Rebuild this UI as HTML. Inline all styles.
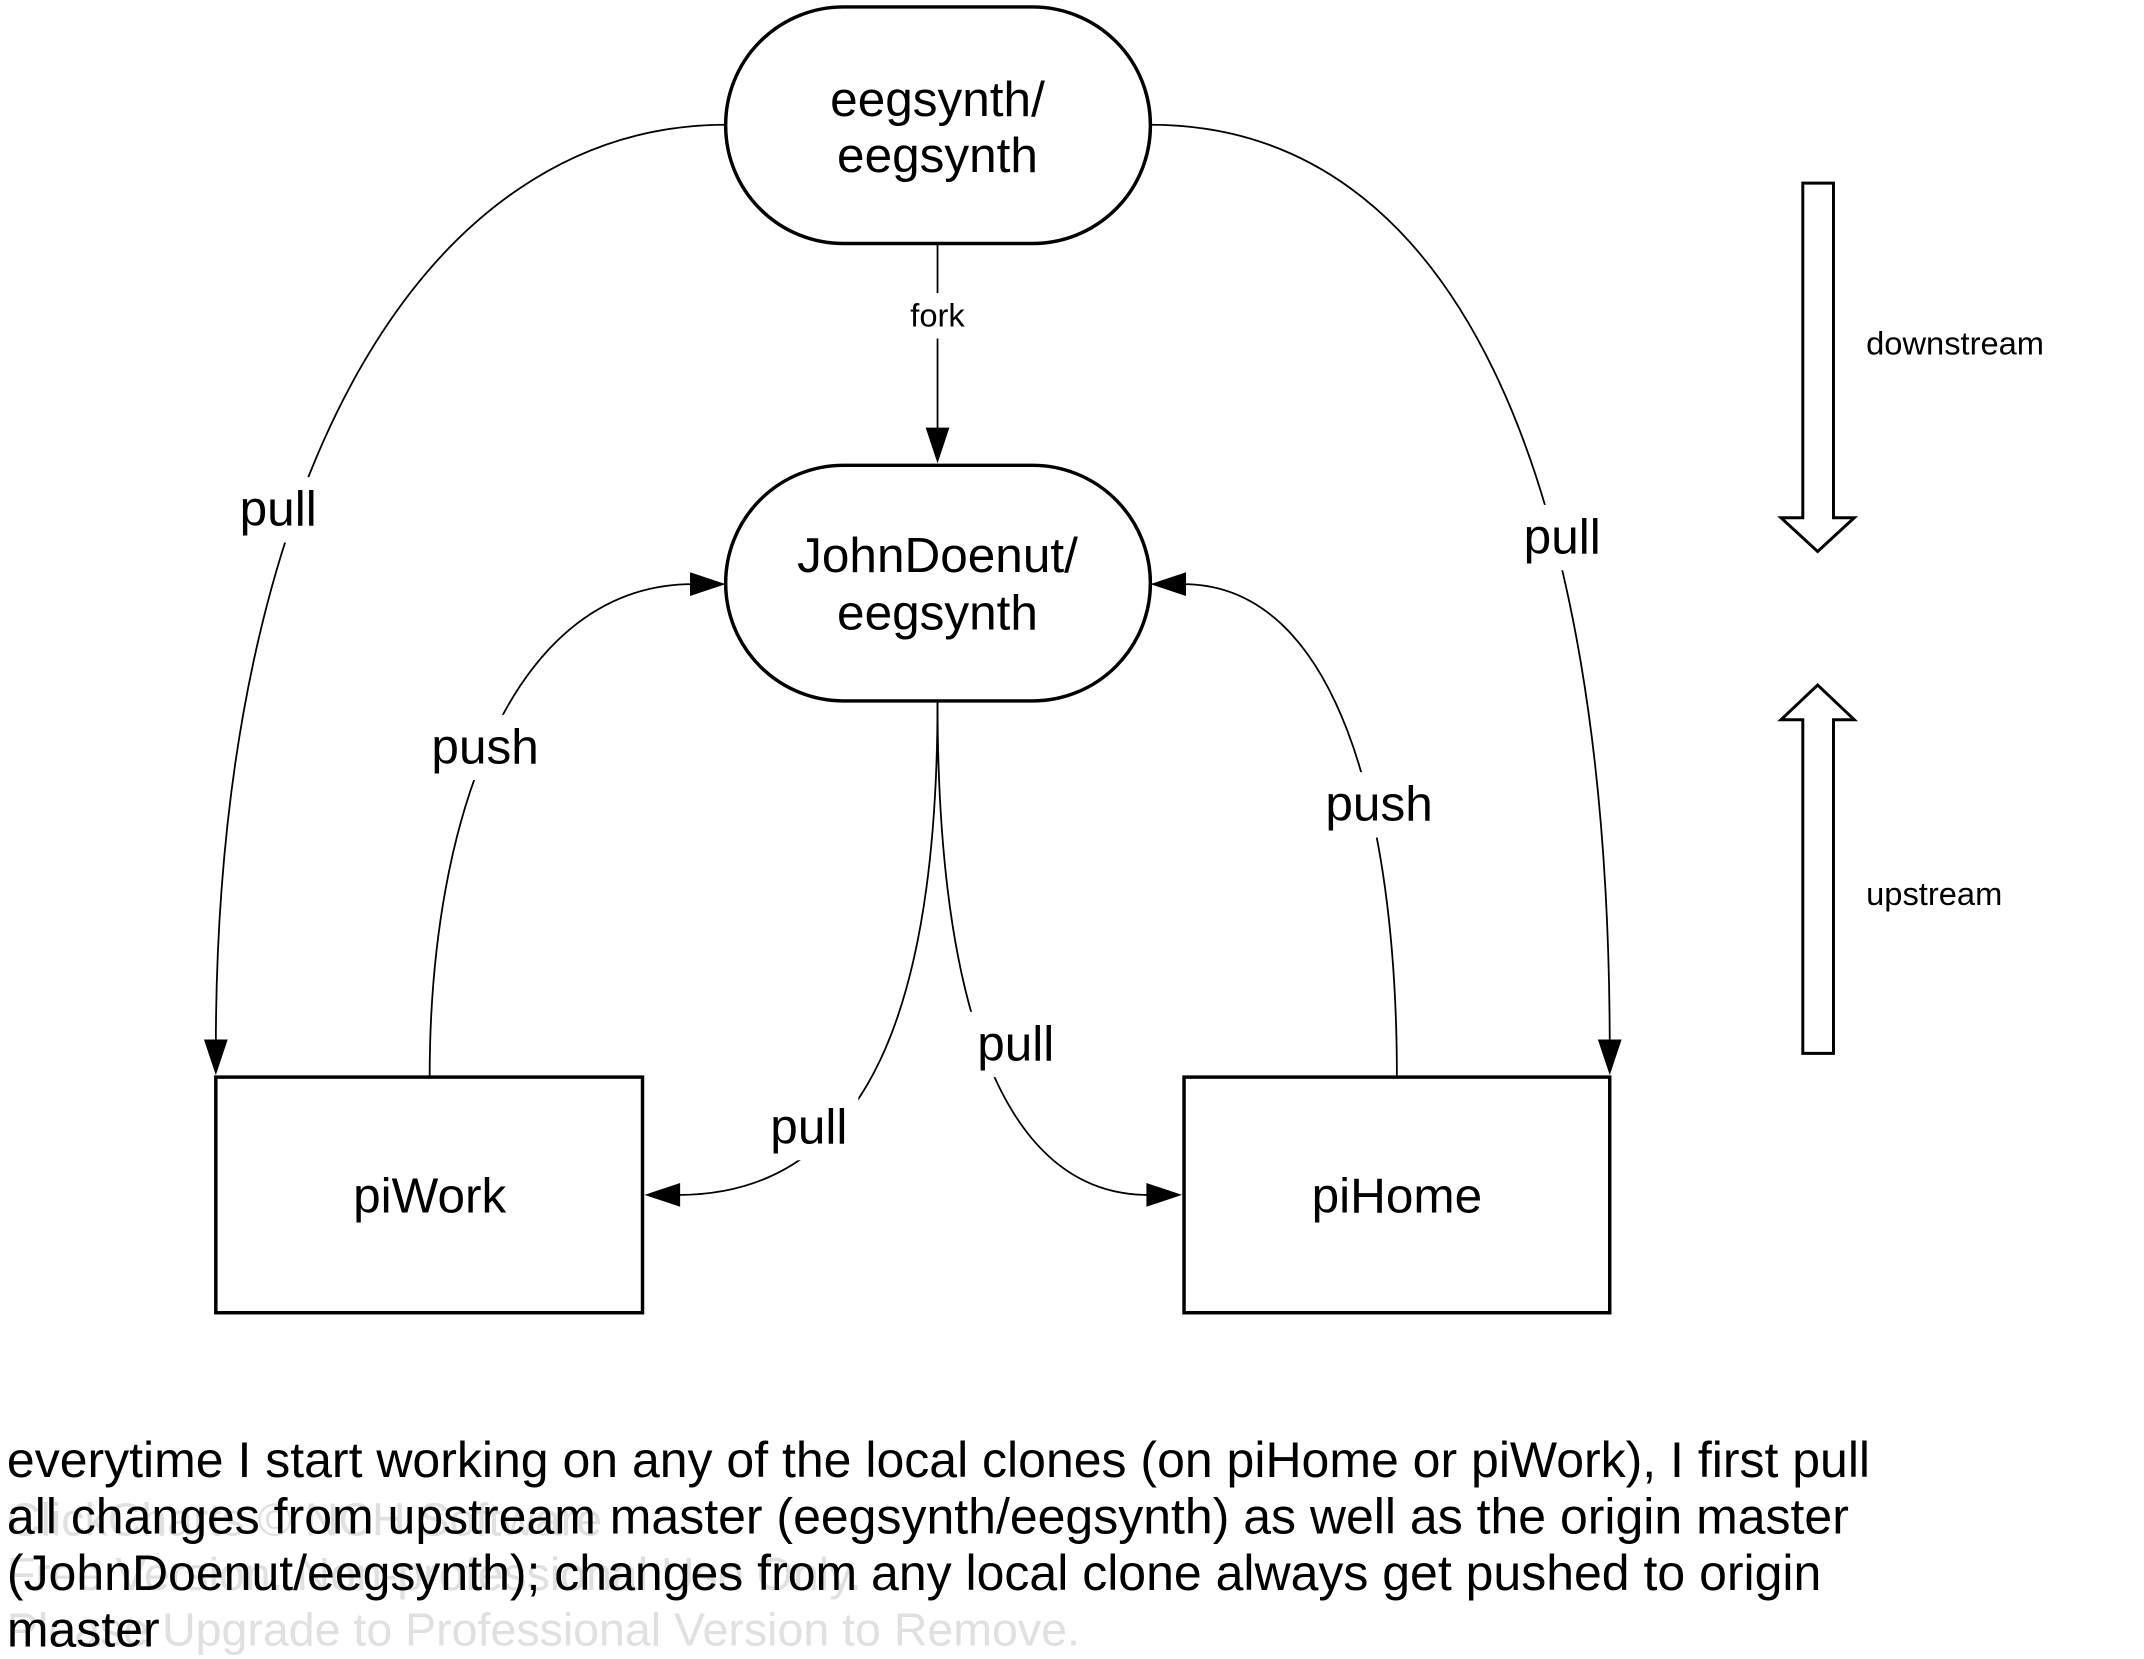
<!DOCTYPE html>
<html><head><meta charset="utf-8"><style>
html,body{margin:0;padding:0;background:#fff;}
svg{display:block;}
text{font-family:"Liberation Sans",Arial,sans-serif;fill:#000;}
</style></head><body>
<svg width="2144" height="1659" viewBox="0 0 2144 1659" xmlns="http://www.w3.org/2000/svg">
<g transform="scale(0.99)">
<g fill="none" stroke="#000" stroke-width="1.8">
<path d="M733,126 C430,126 218,480 218,1060"/>
<path d="M206,1050 L230,1050 L218,1086 Z" fill="#000" stroke="none"/>
<path d="M1162,126 C1470,126 1626,480 1626,1060"/>
<path d="M1614,1050 L1638,1050 L1626,1086 Z" fill="#000" stroke="none"/>
<path d="M947,246 L947,440"/>
<path d="M935,432 L959,432 L947,468 Z" fill="#000" stroke="none"/>
<path d="M434,1088 C434,820 520,590 700,590"/>
<path d="M697,578 L733,590 L697,602 Z" fill="#000" stroke="none"/>
<path d="M1411,1088 C1411,820 1350,590 1195,590"/>
<path d="M1198,578 L1162,590 L1198,602 Z" fill="#000" stroke="none"/>
<path d="M947,708 C947,1010 880,1207 685,1207"/>
<path d="M687,1195 L651,1207 L687,1219 Z" fill="#000" stroke="none"/>
<path d="M947,708 C947,1010 1010,1207 1160,1207"/>
<path d="M1158,1195 L1194,1207 L1158,1219 Z" fill="#000" stroke="none"/>
</g>
<g stroke="#000" stroke-width="3.5" fill="#fff">
<rect x="733" y="7" width="429" height="239" rx="119" ry="119"/>
<rect x="733" y="470" width="429" height="238" rx="119" ry="119"/>
<rect x="218" y="1088" width="431" height="238"/>
<rect x="1196" y="1088" width="430" height="238"/>
</g>
<g stroke="#000" stroke-width="3" fill="#fff">
<path d="M1821,185 L1852,185 L1852,523 L1873,523 L1836,557 L1799,523 L1821,523 Z"/>
<path d="M1821,1064 L1852,1064 L1852,727 L1873,727 L1836,692 L1799,727 L1821,727 Z"/>
</g>
<g fill="#fff">
<rect x="905" y="296" width="84" height="46"/>
<rect x="232" y="482" width="100" height="66"/>
<rect x="1528" y="510" width="100" height="66"/>
<rect x="420" y="722" width="140" height="66"/>
<rect x="1319" y="780" width="148" height="66"/>
<rect x="976" y="1022" width="100" height="66"/>
<rect x="767" y="1106" width="100" height="66"/>
</g>
<g font-size="50" text-anchor="middle">
<text x="947" y="117">eegsynth/</text>
<text x="947" y="174">eegsynth</text>
<text x="947" y="578">JohnDoenut/</text>
<text x="947" y="636">eegsynth</text>
<text x="434" y="1225">piWork</text>
<text x="1411" y="1225">piHome</text>
<text x="281" y="531">pull</text>
<text x="1578" y="559">pull</text>
<text x="490" y="771">push</text>
<text x="1393" y="829">push</text>
<text x="1026" y="1071">pull</text>
<text x="817" y="1155">pull</text>
</g>
<text x="947" y="330" font-size="33" text-anchor="middle">fork</text>
<text x="1885" y="358" font-size="33">downstream</text>
<text x="1885" y="914" font-size="33">upstream</text>
<g font-size="47">
<text x="7" y="1551" style="fill:#e0e0e0">ClickCharts © NCH Software</text>
<text x="7" y="1606" style="fill:#e0e0e0">Free Version. Non-professional Use Only.</text>
<text x="7" y="1662" style="fill:#e0e0e0">Please Upgrade to Professional Version to Remove.</text>
</g>
<g font-size="50.5">
<text x="7" y="1492">everytime I start working on any of the local clones (on piHome or piWork), I first pull</text>
<text x="7" y="1549">all changes from upstream master (eegsynth/eegsynth) as well as the origin master</text>
<text x="7" y="1606">(JohnDoenut/eegsynth); changes from any local clone always get pushed to origin</text>
<text x="7" y="1663">master</text>
</g>
</g>
</svg>
</body></html>
